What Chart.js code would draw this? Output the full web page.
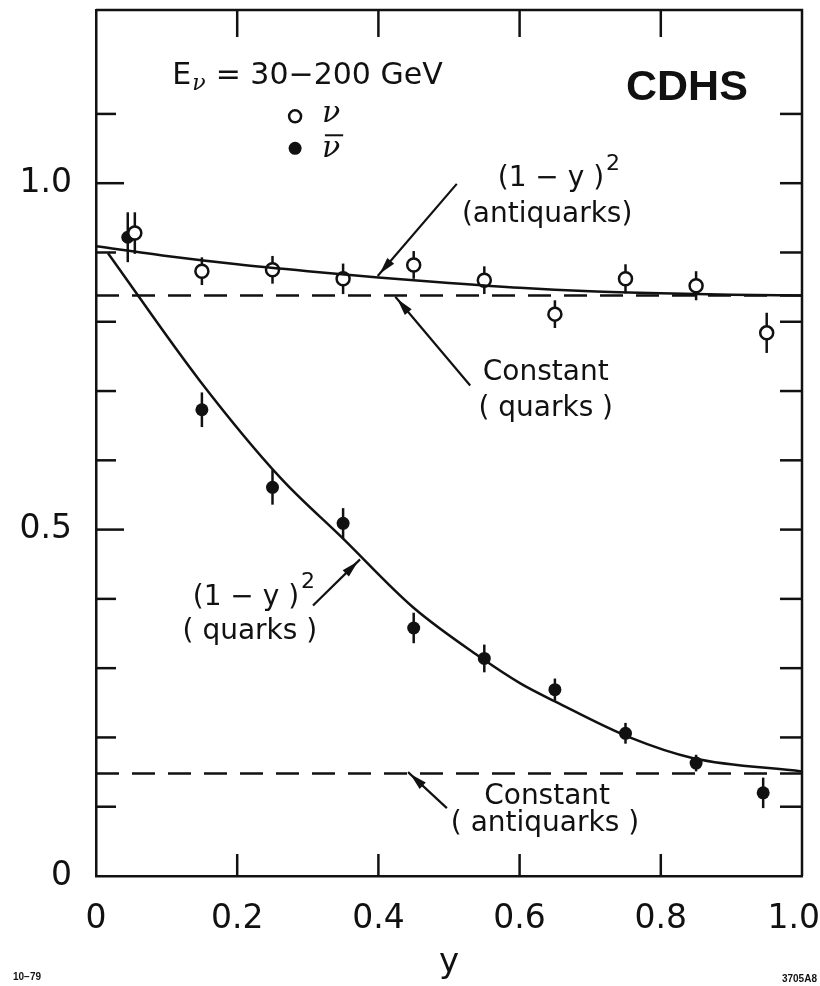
<!DOCTYPE html>
<html>
<head>
<meta charset="utf-8">
<script src="https://cdn.jsdelivr.net/npm/chart.js@4.4.1/dist/chart.umd.min.js"></script>
<style>
html,body{margin:0;padding:0;background:#fff;}
#wrap{width:820px;height:986px;position:relative;}
</style>
</head>
<body>
<div id="wrap"><canvas id="c"></canvas></div>
<script>
// ---- data ----
// neutrino (open circles)
const nuX      = [0.055, 0.15, 0.25, 0.35, 0.45, 0.55, 0.65, 0.75, 0.85, 0.95];
const nuVal    = [0.928, 0.873, 0.875, 0.862, 0.882, 0.860, 0.811, 0.862, 0.852, 0.784];
const nuErr    = [0.030, 0.020, 0.020, 0.022, 0.020, 0.020, 0.020, 0.021, 0.021, 0.029];
// antineutrino (filled circles)
const nubarX   = [0.045, 0.15, 0.25, 0.35, 0.45, 0.55, 0.65, 0.75, 0.85, 0.945];
const nubarVal = [0.922, 0.673, 0.561, 0.509, 0.358, 0.314, 0.269, 0.206, 0.163, 0.120];
const nubarErr = [0.036, 0.025, 0.025, 0.022, 0.022, 0.020, 0.016, 0.015, 0.012, 0.022];
// (1-y)^2 antiquark curve (upper solid line)
const upperCurveX = [0, 0.1, 0.2, 0.3, 0.4, 0.5, 0.6, 0.7, 0.8, 0.9, 1.0];
const upperCurveY = [0.909, 0.895, 0.883, 0.873, 0.864, 0.856, 0.849, 0.844, 0.841, 0.839, 0.838];
// (1-y)^2 quark curve (lower solid line)
const lowerCurveX = [0.017, 0.147, 0.261, 0.350, 0.449, 0.544, 0.601, 0.650, 0.756, 0.846, 1.0];
const lowerCurveY = [0.899, 0.715, 0.575, 0.487, 0.388, 0.316, 0.278, 0.252, 0.200, 0.170, 0.151];
// constant (dashed) lines
const constX = [0, 1];
const quarkConst = [0.838, 0.838];
const antiquarkConst = [0.148, 0.148];
// tick labels
const xTickLabels = {0:'0', 0.2:'0.2', 0.4:'0.4', 0.6:'0.6', 0.8:'0.8', 1:'1.0\u2002'};
const yTickLabels = {0:'0', 0.5:'0.5', 1:'1.0'};

// ---- annotations (data coordinates) ----
const labelFont = '"DejaVu Sans", sans-serif';
const notes = [
  {text:'(1 − y )', sup:'2', x:0.569, y:1.006, align:'left'},
  {text:'(antiquarks)', x:0.639, y:0.955, align:'center'},
  {text:'Constant', x:0.637, y:0.726, align:'center'},
  {text:'( quarks )', x:0.637, y:0.674, align:'center'},
  {text:'(1 − y )', sup:'2', x:0.137, y:0.402, align:'left'},
  {text:'( quarks )', x:0.218, y:0.352, align:'center'},
  {text:'Constant', x:0.639, y:0.115, align:'center'},
  {text:'( antiquarks )', x:0.636, y:0.076, align:'center'}
];
const arrows = [
  {from:[0.511, 0.999], to:[0.399, 0.866]},
  {from:[0.530, 0.708], to:[0.424, 0.836]},
  {from:[0.3074, 0.3905], to:[0.374, 0.457]},
  {from:[0.497, 0.098], to:[0.442, 0.150]}
];

function pts(xs, ys){ return xs.map((x,i)=>({x:x, y:ys[i]})); }
function lbl(map, v){
  for (const k in map){ if (Math.abs(parseFloat(k)-v) < 1e-6) return map[k]; }
  return '';
}

const ink = '#111';

const decor = {
  id:'decor',
  beforeDatasetsDraw(chart){
    const ctx = chart.ctx, xs = chart.scales.x, ys = chart.scales.y;
    ctx.save();
    ctx.strokeStyle = ink; ctx.lineWidth = 2.5;
    const bars = (X, V, E) => {
      X.forEach((x,i)=>{
        const px = xs.getPixelForValue(x);
        ctx.beginPath();
        ctx.moveTo(px, ys.getPixelForValue(V[i]-E[i]));
        ctx.lineTo(px, ys.getPixelForValue(V[i]+E[i]));
        ctx.stroke();
      });
    };
    bars(nuX, nuVal, nuErr);
    bars(nubarX, nubarVal, nubarErr);
    ctx.restore();
  },
  afterDraw(chart){
    const ctx = chart.ctx, xs = chart.scales.x, ys = chart.scales.y, a = chart.chartArea;
    const X = v => xs.getPixelForValue(v), Y = v => ys.getPixelForValue(v);
    ctx.save();
    ctx.strokeStyle = ink; ctx.fillStyle = ink; ctx.lineWidth = 2.5; ctx.lineCap = 'butt';
    // frame top & right
    ctx.beginPath();
    ctx.moveTo(a.left, a.top); ctx.lineTo(a.right, a.top); ctx.lineTo(a.right, a.bottom);
    ctx.stroke();
    // inward ticks
    ys.ticks.forEach(t=>{
      const v = t.value;
      if (v < 1e-6 || v > 1.2 + 1e-6) return;
      const py = Y(v);
      const major = Math.abs(v-0.5)<1e-6 || Math.abs(v-1)<1e-6;
      ctx.beginPath(); ctx.moveTo(a.left, py); ctx.lineTo(a.left + (major?28:20), py); ctx.stroke();
      ctx.beginPath(); ctx.moveTo(a.right, py); ctx.lineTo(a.right - 22, py); ctx.stroke();
    });
    xs.ticks.forEach(t=>{
      const v = t.value;
      if (v < 1e-6 || v > 1 - 1e-6) return;
      const px = X(v);
      ctx.beginPath(); ctx.moveTo(px, a.top); ctx.lineTo(px, a.top + 27); ctx.stroke();
      ctx.beginPath(); ctx.moveTo(px, a.bottom); ctx.lineTo(px, a.bottom - 22); ctx.stroke();
    });
    // arrows
    ctx.lineWidth = 2.2;
    arrows.forEach(ar=>{
      const x0 = X(ar.from[0]), y0 = Y(ar.from[1]), x1 = X(ar.to[0]), y1 = Y(ar.to[1]);
      ctx.beginPath(); ctx.moveTo(x0,y0); ctx.lineTo(x1,y1); ctx.stroke();
      const ang = Math.atan2(y1-y0, x1-x0), L = 20, W = 4.5;
      const bx = x1 - L*Math.cos(ang), by = y1 - L*Math.sin(ang);
      ctx.beginPath();
      ctx.moveTo(x1 - 3*Math.cos(ang), y1 - 3*Math.sin(ang));
      ctx.lineTo(bx + W*Math.sin(ang), by - W*Math.cos(ang));
      ctx.lineTo(bx - W*Math.sin(ang), by + W*Math.cos(ang));
      ctx.closePath(); ctx.fill();
    });
    // text notes
    ctx.textBaseline = 'middle';
    notes.forEach(n=>{
      ctx.font = '28px ' + labelFont;
      ctx.textAlign = n.align;
      const px = X(n.x), py = Y(n.y);
      ctx.fillText(n.text, px, py);
      if (n.sup){
        const w = ctx.measureText(n.text).width;
        ctx.font = '22px ' + labelFont;
        ctx.textAlign = 'left';
        ctx.fillText(n.sup, (n.align==='left'?px:px-w/2) + w + 2, py - 15);
      }
    });
    // header: E_nu = 30-200 GeV
    ctx.textBaseline = 'alphabetic'; ctx.textAlign = 'left';
    ctx.font = '30px ' + labelFont;
    const hx = X(0.108), hy = Y(1.1427);
    ctx.fillText('E', hx, hy);
    const ew = ctx.measureText('E').width;
    ctx.font = 'italic 22px "DejaVu Serif", serif';
    ctx.fillText('ν', hx + ew + 1, hy + 6);
    ctx.font = '30px ' + labelFont;
    ctx.fillText('= 30−200 GeV', X(0.1695), hy);
    // legend symbols
    const lx = X(0.282);
    ctx.lineWidth = 2.5;
    ctx.beginPath(); ctx.arc(lx, Y(1.0965), 6, 0, Math.PI*2);
    ctx.fillStyle = '#fff'; ctx.fill(); ctx.stroke();
    ctx.fillStyle = ink;
    ctx.beginPath(); ctx.arc(lx, Y(1.0504), 6.5, 0, Math.PI*2); ctx.fill();
    ctx.font = 'italic 30px "DejaVu Serif", serif';
    ctx.textBaseline = 'middle';
    const tx = X(0.320);
    ctx.fillText('ν', tx, Y(1.0965) - 2);
    ctx.fillText('ν', tx, Y(1.0504) + 1);
    const nw = ctx.measureText('ν').width;
    ctx.lineWidth = 2;
    ctx.beginPath(); ctx.moveTo(tx + 3, Y(1.0504) - 13); ctx.lineTo(tx + nw + 3, Y(1.0504) - 13); ctx.stroke();
    // CDHS
    ctx.textBaseline = 'alphabetic';
    ctx.font = 'bold 43px "Liberation Sans", Arial, sans-serif';
    ctx.fillText('CDHS', X(0.7507), Y(1.1196));
    // small corner codes
    ctx.font = 'bold 10px "Liberation Sans", Arial, sans-serif';
    ctx.textBaseline = 'middle';
    ctx.fillText('10−79', X(-0.1176), Y(-0.1455));
    ctx.textAlign = 'right';
    ctx.fillText('3705A8', X(1.0212), Y(-0.1484));
    ctx.restore();
  }
};

const chart = new Chart(document.getElementById('c'), {
  type: 'scatter',
  data: {
    datasets: [
      { type:'line', data: pts(upperCurveX, upperCurveY), borderColor: ink, borderWidth: 2.5,
        pointRadius: 0, cubicInterpolationMode: 'monotone', fill: false },
      { type:'line', data: pts(lowerCurveX, lowerCurveY), borderColor: ink, borderWidth: 2.5,
        pointRadius: 0, cubicInterpolationMode: 'monotone', fill: false },
      { type:'line', data: pts(constX, quarkConst), borderColor: ink, borderWidth: 2.5,
        borderDash: [23, 13], pointRadius: 0, fill: false },
      { type:'line', data: pts(constX, antiquarkConst), borderColor: ink, borderWidth: 2.5,
        borderDash: [23, 13], pointRadius: 0, fill: false },
      { data: pts(nuX, nuVal), pointStyle: 'circle', pointRadius: 6.5, borderWidth: 2.5,
        borderColor: ink, backgroundColor: '#fff' },
      { data: pts(nubarX, nubarVal), pointStyle: 'circle', pointRadius: 6.5, borderWidth: 0,
        borderColor: ink, backgroundColor: ink }
    ]
  },
  options: {
    responsive: true,
    maintainAspectRatio: false,
    animation: false,
    layout: { padding: { top: 10, right: 18, bottom: 0, left: 0 } },
    plugins: { legend: { display: false }, tooltip: { enabled: false } },
    scales: {
      x: {
        type: 'linear', min: 0, max: 1,
        grid: { display: false, drawTicks: false },
        border: { display: true, color: ink, width: 2.5 },
        ticks: { stepSize: 0.2, padding: 24, color: ink, maxRotation: 0,
                 font: { family: 'DejaVu Sans', size: 33 },
                 callback: v => lbl(xTickLabels, v) },
        title: { display: true, text: 'y', color: ink,
                 font: { family: 'DejaVu Sans', size: 34 }, padding: { top: 0, bottom: 2 } },
        afterFit: s => { s.height = 110; s.paddingLeft = 0; s.paddingRight = 0; }
      },
      y: {
        type: 'linear', min: 0, max: 1.25,
        grid: { display: false, drawTicks: false },
        border: { display: true, color: ink, width: 2.5 },
        ticks: { stepSize: 0.1, padding: 24, color: ink,
                 font: { family: 'DejaVu Sans', size: 33 },
                 callback: v => lbl(yTickLabels, v) },
        afterFit: s => { s.width = 96; s.paddingTop = 0; s.paddingBottom = 0; }
      }
    }
  },
  plugins: [decor]
});
</script>
</body>
</html>
